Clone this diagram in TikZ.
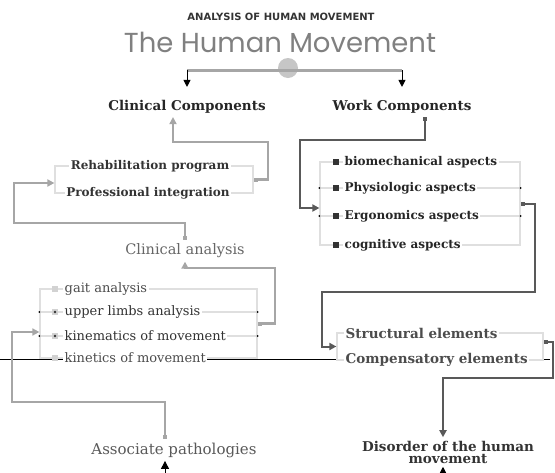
\documentclass[tikz,border=0pt]{standalone}
\usepackage{fontspec}
\setmainfont{DejaVu Serif}
\newfontfamily\titlefont{Poppins}
\newfontfamily\capsfont{DejaVu Sans}
\usetikzlibrary{arrows.meta}

\begin{document}
\begin{tikzpicture}[x=1pt,y=-1pt,
  groupbox/.style={draw=gray!25,line width=1.2pt,fill=white,inner sep=0pt},
  grouprow/.style={draw=gray!25,line width=1.2pt},
  item/.style={fill=white,inner sep=1.5pt,anchor=west,font=\fontsize{12}{13}\selectfont\bfseries},
  plainitem/.style={item,font=\fontsize{13}{14}\selectfont,text=black!70},
  bullet/.style={inner sep=0pt,minimum size=5.5pt},
  clinlink/.style={draw=gray!70,line width=2.2pt,{Square[length=4pt,width=4pt]}-{Triangle[length=7pt,width=7pt]}},
  worklink/.style={draw=black!65,line width=2pt,{Square[length=4pt,width=4pt]}-{Triangle[length=7pt,width=7pt]}},
  uparrow/.style={black,line width=1pt,-{Triangle[length=8pt,width=8pt]}},
  edgedot/.style={circle,fill=black,inner sep=0pt,minimum size=2pt}]
						\clip (0,0) rectangle (555,472);
						% titles
						\node (subtitle) at (281,17) [text=black!80,font=\capsfont\bfseries\fontsize{10}{11}\selectfont]{ANALYSIS OF HUMAN MOVEMENT};
						\node (title) at (280,42) [text=black!50,font=\titlefont\fontsize{27.5}{29}\selectfont]{The Human Movement};
						\fill[gray!45] (288,68) circle [radius=10pt];
						\coordinate (hub) at (288,70);
						\node (clin) at (187,107) [font=\fontsize{13.5}{15}\selectfont\bfseries,text=black!85]{Clinical Components};
						\node (work) at (402,107) [font=\fontsize{13.5}{15}\selectfont\bfseries,text=black!85]{Work Components};
						\draw[gray!70,line width=3pt] (clin.north |- hub) -- (work.north |- hub);
						\draw[uparrow,-{Triangle[length=7pt,width=7pt]}] (clin.north |- hub) -- ([yshift=10pt]clin.north);
						\draw[uparrow,-{Triangle[length=7pt,width=7pt]}] (work.north |- hub) -- ([yshift=10pt]work.north);
						% the black line behind the groups
						\draw[black,line width=.8pt] (0,359) -- (550,359);
						% clinical side
						\node[groupbox,minimum width=198pt,minimum height=27pt] (rehab) at (154,179.5) {};
						\node[item,anchor=center,text=black!80] (rehab1) at (150,166) {Rehabilitation program};
						\node[item,anchor=center,text=black!80] (rehab2) at (148,193) {Professional integration};
						\node (canal) at (185,251) [text=black!60,font=\fontsize{14.5}{16}\selectfont]{Clinical analysis};
						\node[groupbox,minimum width=217pt,minimum height=69pt] (anal) at (148.5,323.5) {};
						\draw[grouprow] (anal.west |- 0,312) -- (anal.east |- 0,312);
						\draw[grouprow] (anal.west |- 0,336) -- (anal.east |- 0,336);
						\node[plainitem] (gait) at (63,289) {gait analysis};
						\node[plainitem,text=black!80] (upper) at (63,312) {upper limbs analysis};
						\node[plainitem,text=black!80] (kinem) at (63,336) {kinematics of movement};
						\node[plainitem] (kinet) at (63,358) {kinetics of movement};
						\node[bullet,fill=gray!35] (b1) at (55,289) {};
						\node[bullet,fill=gray!35] (b2) at (55,312) {};
						\node[bullet,fill=gray!35] (b3) at (55,336) {};
						\node[bullet,fill=gray!35] (b4) at (55,358) {};
						\fill[black!80] (b2) circle [radius=1.3pt];
						\fill[black!80] (b3) circle [radius=1.3pt];
						\node[edgedot] (d1) at (anal.west |- upper) {};
						\node[edgedot] (d2) at (anal.west |- kinem) {};
						\node[edgedot] (d3) at (anal.east |- upper) {};
						\node[edgedot] (d4) at (anal.east |- kinem) {};
						\node (assoc) at (174,450) [text=black!65,font=\fontsize{15}{17}\selectfont]{Associate pathologies};
						% work side
						\node[groupbox,minimum width=200pt,minimum height=83pt] (aspects) at (420,203.5) {};
						\draw[grouprow] (aspects.west |- 0,188) -- (aspects.east |- 0,188);
						\draw[grouprow] (aspects.west |- 0,216) -- (aspects.east |- 0,216);
						\node[item,text=black!85] (bio) at (343,162) {biomechanical aspects};
						\node[item,text=black!85] (phys) at (343,188) {Physiologic aspects};
						\node[item,text=black!85] (ergo) at (343,216) {Ergonomics aspects};
						\node[item,text=black!85] (cogn) at (343,245) {cognitive aspects};
						\node[bullet,fill=black!80] (w1) at (336,162) {};
						\node[bullet,fill=black!80] (w2) at (336,188) {};
						\node[bullet,fill=black!80] (w3) at (336,216) {};
						\node[bullet,fill=black!80] (w4) at (336,245) {};
						\node[edgedot] (d5) at (aspects.west |- phys) {};
						\node[edgedot] (d6) at (aspects.west |- ergo) {};
						\node[edgedot] (d7) at (aspects.east |- phys) {};
						\node[edgedot] (d8) at (aspects.east |- ergo) {};
						\node[groupbox,minimum width=206pt,minimum height=27pt] (struct) at (440,346.5) {};
						\node[item,text=black!70,font=\fontsize{13.5}{15}\selectfont\bfseries] (struc1) at (344,333) {Structural elements};
						\node[item,text=black!70,font=\fontsize{13.5}{15}\selectfont\bfseries] (struc2) at (344,360) {Compensatory elements};
						\node (disorder) at (448,452) [align=center,text=black!80,font=\fontsize{13.5}{12}\selectfont\bfseries]{Disorder of the human\\movement};
						% connectors
						\draw[clinlink] (rehab.east) -| (268,142) -| ([xshift=-14pt]clin.south);
						\draw[clinlink] (canal.north) |- (14,223) |- ([yshift=-3.5pt]rehab.west);
						\draw[clinlink] (anal.east) -| (275,268) -| (canal.south);
						\draw[clinlink,line width=1.6pt] ([xshift=-9pt]assoc.north) |- (12,402) |- ([yshift=-8.5pt]anal.west);
						\draw[worklink] ([xshift=23pt]work.south) |- (300,140) |- ([yshift=-4.5pt]aspects.west);
						\draw[worklink] (aspects.east) -| (535,292) -| ([xshift=-14pt]struct.west) -- (struct.west);
						\draw[worklink] ([yshift=4.5pt]struct.east) -| (553,378) -| ([xshift=-5pt]disorder.north);
						\coordinate (footL) at (165,485);
						\coordinate (footR) at (443,485);
						\draw[uparrow] (footL) -- ([xshift=-9pt]assoc.south);
						\draw[uparrow] (footR) -- ([xshift=-5pt]disorder.south);
					\end{tikzpicture}
\end{document}
